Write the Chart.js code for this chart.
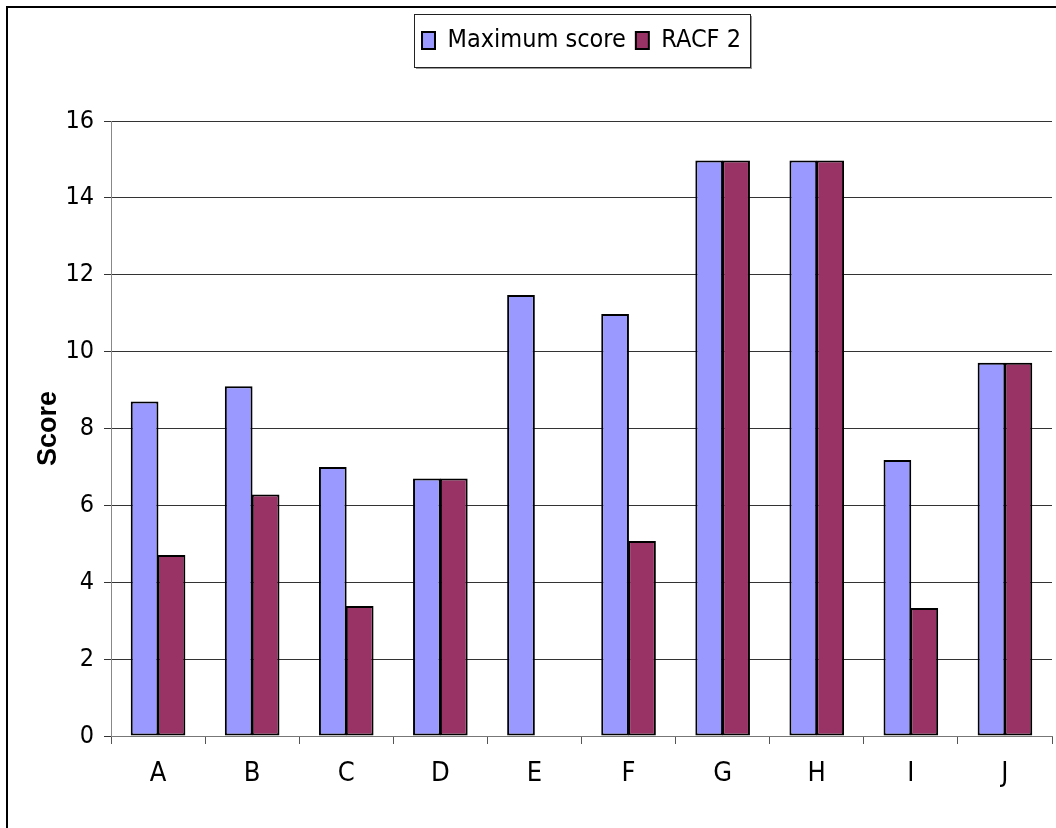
<!DOCTYPE html>
<html>
<head>
<meta charset="utf-8">
<script src="https://cdn.jsdelivr.net/npm/chart.js@4/dist/chart.umd.min.js"></script>
<style>
  html, body { margin: 0; padding: 0; background: #ffffff; }
  #wrap { width: 1056px; height: 828px; }
</style>
</head>
<body>
<div id="wrap"><canvas id="c" width="1056" height="828"></canvas></div>
<script>
const categories = ['A', 'B', 'C', 'D', 'E', 'F', 'G', 'H', 'I', 'J'];
const maximumScore = [8.7, 9.1, 7.0, 6.7, 11.47, 10.98, 14.97, 14.97, 7.18, 9.71];
const racf2 = [4.71, 6.28, 3.38, 6.7, 0, 5.07, 14.97, 14.97, 3.33, 9.71];
const yTicks = [0, 2, 4, 6, 8, 10, 12, 14, 16];
const seriesNames = ['Maximum score', 'RACF 2'];
const axisTitle = 'Score';

const NARROW = "'Liberation Sans Narrow', 'Arial Narrow', 'DejaVu Sans Condensed', 'Liberation Sans', sans-serif";

const framePlugin = {
  id: 'frame',
  beforeDraw(chart) {
    const ctx = chart.ctx;
    ctx.save();
    ctx.fillStyle = '#ffffff';
    ctx.fillRect(0, 0, chart.width, chart.height);
    ctx.strokeStyle = '#000000';
    ctx.lineWidth = 2;
    ctx.strokeRect(7, 7, 1200, 1000);
    ctx.restore();
  },
  afterDraw(chart) {
    const lg = chart.legend;
    if (!lg || !lg.legendHitBoxes || !lg.legendHitBoxes.length) return;
    const hb = lg.legendHitBoxes;
    const left = Math.min(...hb.map(h => h.left)) - 8;
    const right = Math.max(...hb.map(h => h.left + h.width)) + 9;
    const top = Math.min(...hb.map(h => h.top)) - 14;
    const bottom = Math.max(...hb.map(h => h.top + h.height)) + 14;
    const ctx = chart.ctx;
    ctx.save();
    ctx.strokeStyle = '#9a9a9a';
    ctx.lineWidth = 2;
    ctx.beginPath();
    ctx.moveTo(left + 2, bottom + 1);
    ctx.lineTo(right + 1, bottom + 1);
    ctx.lineTo(right + 1, top + 2);
    ctx.stroke();
    ctx.strokeStyle = '#222222';
    ctx.lineWidth = 1;
    ctx.strokeRect(Math.round(left) + 0.5, Math.round(top) + 0.5, Math.round(right - left), Math.round(bottom - top));
    ctx.restore();
  }
};

new Chart(document.getElementById('c'), {
  type: 'bar',
  data: {
    labels: categories,
    datasets: [
      {
        label: seriesNames[0],
        data: maximumScore,
        backgroundColor: '#9999FF',
        borderColor: '#000000',
        borderWidth: 2,
        borderSkipped: false,
        categoryPercentage: 0.572,
        barPercentage: 1.03
      },
      {
        label: seriesNames[1],
        data: racf2,
        backgroundColor: '#993366',
        borderColor: '#000000',
        borderWidth: 2,
        borderSkipped: false,
        categoryPercentage: 0.572,
        barPercentage: 1.03
      }
    ]
  },
  options: {
    responsive: false,
    animation: false,
    layout: { padding: { top: 18, left: 0, right: 4, bottom: 0 } },
    plugins: {
      legend: {
        display: true,
        position: 'top',
        fullSize: false,
        labels: {
          boxWidth: 13,
          boxHeight: 17,
          padding: 10,
          color: '#000000',
          font: { family: NARROW, size: 25 },
          generateLabels(chart) {
            return chart.data.datasets.map((ds, i) => ({
              text: ds.label,
              fillStyle: ds.backgroundColor,
              strokeStyle: '#000000',
              lineWidth: 2,
              hidden: false,
              datasetIndex: i
            }));
          }
        }
      },
      title: {
        display: true,
        text: '',
        weight: 500,
        font: { size: 10, lineHeight: 1.2 },
        padding: { top: 0, bottom: 46 }
      },
      tooltip: { enabled: false }
    },
    scales: {
      x: {
        grid: {
          display: true,
          drawOnChartArea: false,
          drawTicks: true,
          tickLength: 8,
          color: '#555555',
          offset: true
        },
        border: { display: true, color: '#777777', width: 1 },
        ticks: {
          color: '#000000',
          padding: 14,
          font: { family: NARROW, size: 27 }
        },
        afterFit(scale) { scale.height = 92; }
      },
      y: {
        min: 0,
        max: 16,
        afterBuildTicks(scale) { scale.ticks = yTicks.map(v => ({ value: v })); },
        grid: {
          color: '#333333',
          lineWidth: 1,
          drawTicks: true,
          tickLength: 7
        },
        border: { display: true, color: '#888888', width: 1 },
        ticks: {
          color: '#000000',
          padding: 10,
          font: { family: NARROW, size: 25 }
        },
        title: {
          display: true,
          text: axisTitle,
          color: '#000000',
          font: { family: "'Liberation Sans', Arial, sans-serif", size: 27, weight: 'bold' },
          padding: { top: 32, bottom: 0 }
        },
        afterFit(scale) { scale.width = 111; }
      }
    }
  },
  plugins: [framePlugin]
});
</script>
</body>
</html>
